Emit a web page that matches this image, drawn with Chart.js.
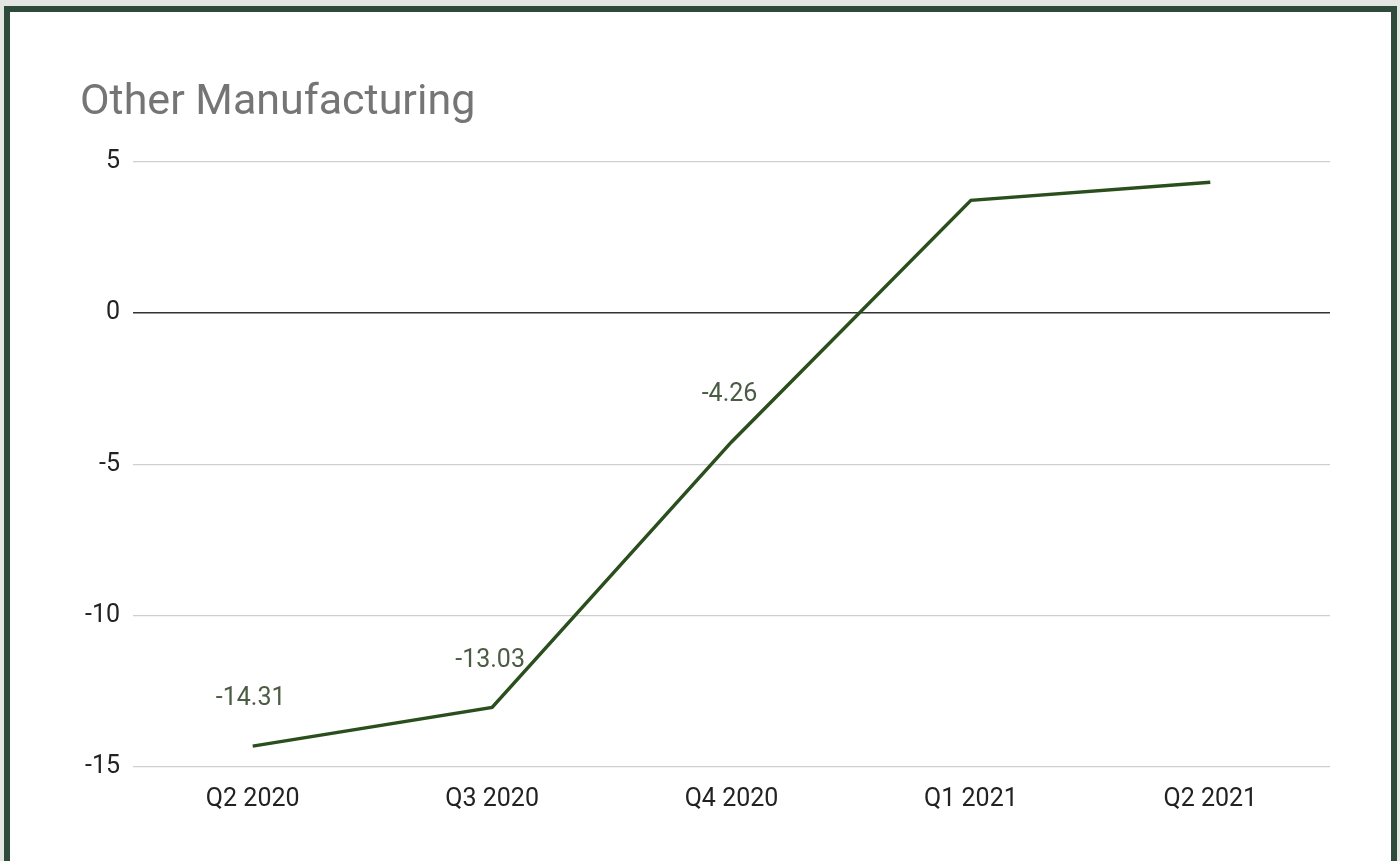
<!DOCTYPE html>
<html lang="en">
<head>
    <meta charset="UTF-8">
    <title>Other Manufacturing</title>
    <style>
        html, body { margin: 0; padding: 0; background: #e4e6e3; overflow: hidden; }
        #frame { position: absolute; left: 4px; top: 6px; width: 1381px; height: 900px; background: #fff; border: 6px solid #2d4a3b; }
        #chart { position: absolute; left: 0; top: 0; }
    </style>
    <script src="https://cdn.jsdelivr.net/npm/chart.js"></script>
</head>
<body>
    <div id="frame"></div>
    <canvas id="chart" width="1400" height="861"></canvas>

    <script>
        const quarters = ["Q2 2020", "Q3 2020", "Q4 2020", "Q1 2021", "Q2 2021"];
        const values = [-14.31, -13.03, -4.26, 3.72, 4.32];
        const showLabel = [true, true, true, false, false];
        const yTicks = [5, 0, -5, -10, -15];

        // draws the value labels above the first points, like the sheet does
        const valueLabels = {
            id: "valueLabels",
            afterDatasetsDraw(chart) {
                const ctx = chart.ctx;
                const meta = chart.getDatasetMeta(0);
                ctx.save();
                ctx.font = "25px Roboto";
                ctx.fillStyle = "#4a5c44";
                ctx.textAlign = "center";
                ctx.textBaseline = "middle";
                meta.data.forEach((pt, i) => {
                    if (!showLabel[i]) return;
                    ctx.fillText(values[i].toFixed(2), pt.x - 2, pt.y - 47);
                });
                ctx.restore();
            }
        };

        new Chart(document.getElementById("chart"), {
            type: "line",
            data: {
                labels: quarters,
                datasets: [{
                    data: values,
                    borderColor: "#2a4f1d",
                    borderWidth: 3.5,
                    pointRadius: 0,
                    tension: 0,
                    fill: false
                }]
            },
            options: {
                responsive: false,
                animation: false,
                layout: { padding: { left: 80, right: 70, top: 20, bottom: 0 } },
                plugins: {
                    legend: { display: false },
                    tooltip: { enabled: false },
                    title: {
                        display: true,
                        text: "Other Manufacturing",
                        align: "start",
                        color: "#757575",
                        font: { family: "Roboto", size: 43, weight: "normal" },
                        padding: { top: 57, bottom: 33 }
                    }
                },
                scales: {
                    x: {
                        offset: true,
                        grid: { display: false },
                        border: { display: false },
                        ticks: { color: "#222", font: { family: "Roboto", size: 25 }, padding: 10, maxRotation: 0 },
                        afterFit(scale) { scale.height = 94; }
                    },
                    y: {
                        min: -15,
                        max: 5,
                        afterBuildTicks(scale) { scale.ticks = yTicks.map(v => ({ value: v })); },
                        grid: {
                            drawTicks: false,
                            color: ctx => ctx.tick && ctx.tick.value === 0 ? "#333" : "#cfcfcf",
                            lineWidth: ctx => ctx.tick && ctx.tick.value === 0 ? 1.5 : 1.2
                        },
                        border: { display: false },
                        ticks: { color: "#222", font: { family: "Roboto", size: 25 }, padding: 13 },
                        afterFit(scale) { scale.width = 53; }
                    }
                }
            },
            plugins: [valueLabels]
        });
    </script>
</body>
</html>
